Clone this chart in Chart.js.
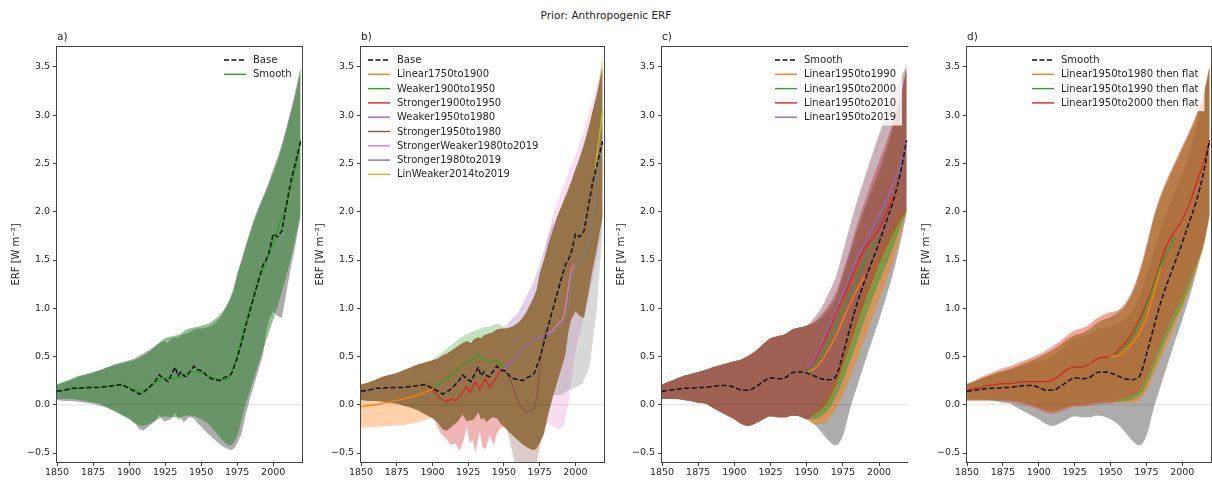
<!DOCTYPE html>
<html>
<head>
<meta charset="utf-8">
<script src="https://cdn.jsdelivr.net/npm/chart.js@4.4.1/dist/chart.umd.min.js"></script>
<style>
  body { margin: 0; width: 1212px; height: 482px; background: #fff; position: relative; overflow: hidden; }
  canvas { position: absolute; top: 0; }
  #suptitle { position: absolute; top: 8px; left: 0; width: 1212px; text-align: center;
              font: 10.5px "DejaVu Sans"; line-height: 14px; color: #262626; }
</style>
</head>
<body>
<div id="suptitle">Prior: Anthropogenic ERF</div>
<canvas id="panelA" width="303" height="482" style="left:0px"></canvas>
<canvas id="panelB" width="303" height="482" style="left:304px"></canvas>
<canvas id="panelC" width="303" height="482" style="left:605px"></canvas>
<canvas id="panelD" width="302" height="482" style="left:910px"></canvas>
<script>
// ---- axes ----
const xTicks = [1850, 1875, 1900, 1925, 1950, 1975, 2000];
const yTicks = [-0.5, 0, 0.5, 1, 1.5, 2, 2.5, 3, 3.5];
const zeroYears = [1850, 2020];
const zeroVals = [0, 0];

// ---- Base (noisy) ----
const baseYears = [1850,1855,1860,1865,1870,1875,1880,1885,1890,1895,1900,1904,1907,1910,1914,1918,1921,1924,1927,1929,1932,
  1934,1936,1938,1940,1942,1945,1948,1951,1954,1957,1960,1963,1966,1969,1971,1973,1975,1978,1981,1984,
  1987,1990,1993,1995,1997,2000,2003,2006,2009,2012,2015,2019];
const baseMid = [0.14,0.15,0.17,0.17,0.18,0.18,0.18,0.19,0.20,0.21,0.17,0.14,0.11,0.13,0.18,0.24,0.31,0.27,0.24,0.30,0.39,
  0.30,0.34,0.30,0.29,0.34,0.40,0.36,0.35,0.30,0.27,0.26,0.25,0.28,0.30,0.32,0.40,0.48,0.64,0.82,0.98,
  1.14,1.30,1.45,1.50,1.57,1.77,1.74,1.80,2.05,2.30,2.48,2.73];
const baseUp = [0.21,0.23,0.26,0.29,0.31,0.33,0.36,0.39,0.42,0.44,0.46,0.48,0.51,0.53,0.57,0.61,0.64,0.66,0.64,0.68,0.70,
  0.69,0.72,0.73,0.74,0.75,0.78,0.79,0.79,0.80,0.82,0.85,0.90,0.97,1.06,1.12,1.20,1.36,1.50,1.66,1.80,
  1.94,2.05,2.16,2.23,2.31,2.44,2.56,2.70,2.86,3.04,3.22,3.50];
const baseLo = [0.05,0.04,0.04,0.03,0.02,0.01,-0.01,-0.03,-0.06,-0.10,-0.14,-0.19,-0.25,-0.27,-0.22,-0.17,-0.10,-0.17,-0.16,-0.15,-0.08,
  -0.15,-0.14,-0.18,-0.15,-0.13,-0.14,-0.20,-0.24,-0.29,-0.33,-0.37,-0.41,-0.44,-0.46,-0.47,-0.45,-0.40,-0.30,-0.10,0.07,
  0.22,0.37,0.52,0.75,0.88,0.97,0.92,0.90,1.15,1.40,1.62,1.95];

// ---- Smooth (5-yearly) ----
const years5 = [1850,1855,1860,1865,1870,1875,1880,1885,1890,1895,1900,1905,1910,1915,1920,1925,1930,1935,1940,1945,
  1950,1955,1960,1965,1970,1975,1980,1985,1990,1995,2000,2005,2010,2015,2019];
const smoothMid = [0.14,0.15,0.16,0.17,0.17,0.18,0.18,0.19,0.20,0.20,0.18,0.15,0.15,0.19,0.24,0.28,0.27,0.28,0.33,0.34,
  0.33,0.30,0.27,0.26,0.29,0.52,0.80,1.06,1.28,1.48,1.68,1.90,2.12,2.42,2.74];
const smoothUp = [0.21,0.24,0.27,0.30,0.32,0.34,0.36,0.39,0.41,0.43,0.45,0.47,0.51,0.56,0.63,0.69,0.71,0.73,0.78,0.80,
  0.82,0.84,0.89,0.97,1.10,1.34,1.58,1.82,2.03,2.21,2.40,2.62,2.90,3.18,3.48];
const smoothLo = [0.06,0.06,0.06,0.05,0.04,0.02,0.01,-0.03,-0.07,-0.11,-0.15,-0.20,-0.22,-0.19,-0.15,-0.12,-0.13,-0.13,-0.11,-0.12,
  -0.15,-0.20,-0.28,-0.37,-0.42,-0.32,-0.04,0.20,0.43,0.66,0.88,1.12,1.38,1.70,1.98];

// ---- panel b series ----
const bNames = ["Base","Linear1750to1900","Weaker1900to1950","Stronger1900to1950","Weaker1950to1980",
  "Stronger1950to1980","StrongerWeaker1980to2019","Stronger1980to2019","LinWeaker2014to2019"];
const bOrangeYears = [1850,1860,1870,1880,1890,1900];
const bOrangeLine = [-0.02,0.00,0.03,0.06,0.10,0.16];
const bOrangeUp = [0.10,0.12,0.15,0.18,0.22,0.30];
const bOrangeLo = [-0.24,-0.23,-0.22,-0.21,-0.18,-0.13];
const bGreenYears = [1900,1905,1910,1915,1920,1925,1930,1932,1935,1940,1945,1948,1950];
const bGreenLine = [0.18,0.22,0.27,0.33,0.41,0.45,0.49,0.52,0.47,0.45,0.46,0.42,0.38];
const bGreenUp = [0.47,0.52,0.58,0.64,0.70,0.74,0.77,0.78,0.80,0.81,0.84,0.83,0.80];
const bGreenLo = [-0.10,-0.12,-0.14,-0.10,-0.05,-0.02,0.00,0.00,0.00,0.00,0.00,0.00,0.00];
const bRedYears = [1900,1903,1906,1910,1913,1916,1919,1922,1924,1926,1928,1930,1933,1935,1937,1940,1943,1945,1947,1950];
const bRedLine = [0.16,0.10,0.06,0.03,0.06,0.04,0.09,0.15,0.19,0.12,0.18,0.24,0.15,0.22,0.27,0.18,0.24,0.29,0.34,0.36];
const bRedUp = [0.40,0.38,0.40,0.42,0.45,0.45,0.48,0.52,0.55,0.50,0.52,0.56,0.50,0.55,0.58,0.55,0.58,0.60,0.62,0.62];
const bRedLo = [-0.10,-0.22,-0.30,-0.36,-0.42,-0.40,-0.48,-0.36,-0.22,-0.40,-0.36,-0.50,-0.28,-0.44,-0.46,-0.32,-0.42,-0.30,-0.25,-0.22];
const bPurpleYears = [1950,1955,1960,1965,1970,1975,1980,1985];
const bPurpleLine = [0.36,0.44,0.52,0.60,0.66,0.70,0.72,0.76];
const bPurpleUp = [0.80,0.88,0.96,1.10,1.25,1.45,1.70,1.92];
const bPurpleLo = [0.00,-0.10,-0.15,-0.15,-0.10,0.00,0.30,0.60];
const bBrownYears = [1950,1953,1956,1959,1962,1965,1968,1971,1973,1975,1977,1979];
const bBrownLine = [0.36,0.30,0.20,0.07,-0.03,-0.07,-0.07,-0.04,0.08,0.35,0.62,0.78];
const bBrownUp = [0.60,0.55,0.50,0.50,0.50,0.60,0.70,0.80,0.90,1.00,1.10,1.30];
const bBrownLo = [-0.15,-0.30,-0.50,-0.70,-0.80,-0.85,-0.85,-0.75,-0.60,-0.45,-0.30,-0.15];
const bPinkYears = [1980,1984,1988,1991,1993,1995,1997,1999];
const bPinkLine = [0.72,0.77,0.84,0.88,1.00,1.20,1.38,1.45];
const bPinkBandYears = [1977,1980,1984,1988,1992,1995,2000,2005,2010,2015,2019];
const bPinkUp = [1.40,1.70,1.95,2.12,2.28,2.40,2.58,2.80,3.05,3.30,3.55];
const bPinkLo = [-0.25,-0.20,-0.22,-0.25,-0.22,0.00,0.55,0.85,1.15,1.50,1.90];
const bGrayYears = [1985,1990,1995,2000,2005,2010,2015,2019];
const bGrayLine = [0.75,0.82,1.00,1.45,1.50,1.75,2.30,2.73];
const bGrayUp = [1.80,2.00,2.20,2.40,2.60,2.90,3.10,3.45];
const bGrayLo = [0.10,0.10,0.15,0.18,0.22,0.40,1.00,1.80];
const bOliveYears = [2014,2019];
const bOliveLine = [2.45,3.05];
const bOliveUp = [3.00,3.66];
const bOliveLo = [1.95,2.20];

// ---- panel c series (after 1950; before that they equal Smooth) ----
const cNames = ["Smooth","Linear1950to1990","Linear1950to2000","Linear1950to2010","Linear1950to2019"];
const cOrangeLine = [0.33,0.37,0.45,0.57,0.71,0.88,1.05,1.20,1.33];
const cGreenLine = [0.34,0.40,0.50,0.65,0.82,0.98,1.15,1.30,1.48,1.62,1.73];
const cRedLine = [0.36,0.46,0.60,0.76,0.95,1.10,1.28,1.46,1.62,1.72,1.82,1.99,2.15];
const cPurpleLine = [0.37,0.48,0.63,0.80,0.98,1.16,1.34,1.52,1.68,1.82,1.96,2.12,2.30,2.50,2.74];
const cOrangeUp = [0.84,0.89,0.97,1.08,1.28,1.50,1.74,1.96,2.18,2.40,2.62,2.88,3.16,3.47];
const cOrangeLo = [-0.20,-0.20,-0.15,-0.05,0.10,0.28,0.48,0.68,0.88,1.08,1.28,1.50,1.76,2.00];
const cGreenUp = [0.85,0.91,1.00,1.12,1.32,1.56,1.80,2.02,2.24,2.44,2.66,2.90,3.18,3.48];
const cGreenLo = [-0.15,-0.12,-0.05,0.08,0.25,0.45,0.66,0.88,1.08,1.27,1.45,1.64,1.85,2.00];
const cRedUp = [0.86,0.93,1.03,1.16,1.38,1.62,1.88,2.10,2.32,2.52,2.72,2.95,3.22,3.50];
const cRedLo = [-0.10,-0.05,0.05,0.20,0.40,0.62,0.85,1.06,1.26,1.45,1.62,1.78,1.92,2.00];
const cPurpleUp = [0.90,1.00,1.15,1.32,1.58,1.86,2.12,2.35,2.58,2.80,3.00,3.20,3.38,3.52];
const cPurpleLo = [-0.08,0.00,0.12,0.30,0.52,0.75,0.98,1.20,1.40,1.58,1.74,1.88,1.98,2.02];

// ---- panel d series ----
const dNames = ["Smooth","Linear1950to1980 then flat","Linear1950to1990 then flat","Linear1950to2000 then flat"];
const dRedLine = [0.15,0.17,0.18,0.20,0.21,0.22,0.22,0.23,0.24,0.24,0.24,0.24,0.26,0.31,0.37,0.39,0.39,0.42,0.47,0.49,
  0.50,0.56,0.64,0.74,0.88,1.05,1.25,1.48,1.68,1.80,1.92,2.08,2.30,2.52,2.74];
const dOrangeLine = [0.50,0.51,0.56,0.63,0.74,0.90,1.15,1.42];
const dGreenLine = [0.50,0.53,0.60,0.70,0.84,1.02,1.23,1.45,1.60,1.74];
const dShareUp = [0.21,0.24,0.27,0.30,0.33,0.35,0.37,0.40,0.43,0.46,0.49,0.53,0.57,0.62,0.68,0.72,0.74,0.78,0.84,0.88,0.91];
const dShareLo = [0.05,0.05,0.05,0.05,0.05,0.05,0.04,0.03,0.02,0.00,-0.03,-0.06,-0.07,-0.05,-0.02,0.00,0.00,0.01,0.02,0.03,0.03];
const dRedUpPre = [0.22,0.25,0.29,0.32,0.35,0.38,0.40,0.43,0.46,0.49,0.52,0.56,0.61,0.66,0.72,0.77,0.79,0.83,0.89,0.93,0.96];
const dRedLoPre = [0.04,0.04,0.04,0.04,0.04,0.04,0.03,0.02,0.00,-0.02,-0.05,-0.08,-0.09,-0.07,-0.04,-0.02,-0.02,-0.01,0.00,0.01,0.01];
const dRedUp = [0.98,1.05,1.18,1.38,1.65,1.95,2.18,2.36,2.52,2.68,2.84,3.02,3.24,3.52];
const dRedLo = [0.05,0.07,0.09,0.14,0.27,0.45,0.63,0.80,0.97,1.12,1.30,1.47,1.68,1.97];
const dGreenUp = [0.96,1.03,1.16,1.36,1.63,1.93,2.16,2.34,2.50,2.66,2.82,3.00,3.22,3.51];
const dGreenLo = [0.03,0.04,0.05,0.09,0.20,0.37,0.55,0.72,0.88,1.04,1.22,1.44,1.66,1.96];
const dOrangeUp = [0.94,1.01,1.14,1.34,1.61,1.91,2.14,2.32,2.48,2.64,2.80,2.98,3.20,3.50];
const dOrangeLo = [0.02,0.02,0.02,0.05,0.14,0.30,0.48,0.64,0.82,0.99,1.18,1.40,1.64,1.95];

// ---- colours ----
const C = { orange: "#ff7f0e", green: "#2ca02c", red: "#d62728", purple: "#9467bd",
            brown: "#8c564b", pink: "#e377c2", gray: "#7f7f7f", olive: "#bcbd22", black: "#111111" };
const DASH = [5, 2.5];

function pts(xs, ys) {
  return xs.map((x, i) => ({ x: x, y: ys[i] }));
}

function line(xs, ys, color, opt) {
  return Object.assign({
    data: pts(xs, ys), borderColor: color, borderWidth: 1.3, pointRadius: 0,
    fill: false, tension: 0, order: 2
  }, opt || {});
}

function band(xs, up, lo, color, order, smooth) {
  const mode = smooth ? { cubicInterpolationMode: "monotone" } : {};
  return [
    Object.assign({ data: pts(xs, up), borderColor: "transparent", borderWidth: 0, pointRadius: 0,
                    fill: "+1", backgroundColor: color, order: order }, mode),
    Object.assign({ data: pts(xs, lo), borderColor: "transparent", borderWidth: 0, pointRadius: 0,
                    fill: false, order: order }, mode)
  ];
}

const zeroLine = () => line(zeroYears, zeroVals, "rgba(0,0,0,0.16)", { borderWidth: 0.8, order: 3 });
const SM = { cubicInterpolationMode: "monotone" };

// legend drawn inside the axes, like matplotlib
const panelLegend = {
  id: "panelLegend",
  afterDraw(chart, args, opts) {
    if (!opts.items) return;
    const ctx = chart.ctx;
    ctx.save();
    ctx.font = '10px "DejaVu Sans"';
    const rowH = 14.3;
    const textW = Math.max(...opts.items.map(it => ctx.measureText(it.label).width));
    ctx.fillStyle = "rgba(255,255,255,0.8)";
    ctx.fillRect(opts.x - 5, opts.y - 9, textW + 40, rowH * opts.items.length + 3);
    opts.items.forEach((it, i) => {
      const y = opts.y + i * rowH;
      ctx.strokeStyle = it.color;
      ctx.lineWidth = it.dash ? 1.5 : 1.4;
      ctx.setLineDash(it.dash || []);
      ctx.beginPath();
      ctx.moveTo(opts.x, y);
      ctx.lineTo(opts.x + 22, y);
      ctx.stroke();
      ctx.setLineDash([]);
      ctx.fillStyle = "#262626";
      ctx.textBaseline = "middle";
      ctx.fillText(it.label, opts.x + 29, y + 0.5);
    });
    ctx.restore();
  }
};

const frame = {
  id: "frame",
  afterDatasetsDraw(chart) {
    const { ctx, chartArea: a } = chart;
    ctx.save();
    ctx.strokeStyle = "#444";
    ctx.lineWidth = 1;
    ctx.strokeRect(a.left - 0.5, a.top - 0.5, a.right - a.left + 1, a.bottom - a.top + 1);
    ctx.restore();
  }
};

function makeChart(id, panel, datasets, legend, padRight) {
  return new Chart(document.getElementById(id), {
    type: "line",
    data: { datasets: datasets },
    options: {
      responsive: false,
      animation: false,
      events: [],
      layout: { padding: { left: 0, right: padRight, top: 0, bottom: 0 } },
      plugins: {
        legend: { display: false },
        tooltip: { enabled: false },
        title: {
          display: true, text: panel, align: "start", fullSize: false,
          color: "#262626", font: { size: 10.5, weight: "normal" },
          padding: { top: 30.5, bottom: 3.9 }
        },
        panelLegend: legend
      },
      scales: {
        x: {
          type: "linear", min: 1850, max: 2020,
          afterBuildTicks: s => { s.ticks = xTicks.map(v => ({ value: v })); },
          afterFit: s => { s.height = 20; },
          ticks: { font: { size: 9.5 }, color: "#262626", padding: 1, maxRotation: 0, autoSkip: false,
                   callback: v => String(v) },
          grid: { drawOnChartArea: false, drawTicks: true, tickLength: 4, color: "#444" },
          border: { display: false }
        },
        y: {
          min: -0.593, max: 3.707,
          afterBuildTicks: s => { s.ticks = yTicks.map(v => ({ value: v })); },
          afterFit: s => { s.width = 57; },
          ticks: { font: { size: 9.5 }, color: "#262626", padding: 3,
                   callback: v => (v < 0 ? "\u2212" : "") + Math.abs(v).toFixed(1) },
          grid: { drawOnChartArea: false, drawTicks: true, tickLength: 4, color: "#444" },
          border: { display: false },
          title: { display: true, text: "ERF [W m\u207B\u00B2]", color: "#262626",
                   font: { size: 10 }, padding: { top: 10, bottom: 0 } }
        }
      }
    },
    plugins: [panelLegend, frame]
  });
}

Chart.defaults.font.family = '"DejaVu Sans", sans-serif';

// a) Base vs Smooth
makeChart("panelA", "a)", [
  line(baseYears, baseMid, C.black, { borderDash: DASH, borderWidth: 1.5, order: 1 }),
  line(years5, smoothMid, C.green, Object.assign({ order: 2 }, SM)),
  zeroLine(),
  ...band(baseYears, baseUp, baseLo, "rgba(90,90,90,0.5)", 10, false),
  ...band(years5, smoothUp, smoothLo, "rgba(38,128,38,0.5)", 9, true)
], {
  x: 224, y: 60,
  items: [{ label: "Base", color: C.black, dash: DASH }, { label: "Smooth", color: C.green }]
}, 1);

// b) period-specific variants
const bColors = [C.black, C.orange, C.green, C.red, C.purple, C.brown, C.pink, C.gray, C.olive];
makeChart("panelB", "b)", [
  line(baseYears, baseMid, C.black, { borderDash: DASH, borderWidth: 1.5, order: 1 }),
  line(bOrangeYears, bOrangeLine, C.orange),
  line(bGreenYears, bGreenLine, C.green),
  line(bRedYears, bRedLine, C.red),
  line(bPurpleYears, bPurpleLine, C.purple),
  line(bBrownYears, bBrownLine, C.brown),
  line(bPinkYears, bPinkLine, C.pink),
  line(bGrayYears, bGrayLine, C.gray),
  line(bOliveYears, bOliveLine, C.olive),
  zeroLine(),
  ...band(baseYears, baseUp, baseLo, "rgb(150,115,72)", 5, false),
  ...band(bOrangeYears, bOrangeUp, bOrangeLo, "rgba(255,127,14,0.35)", 10, false),
  ...band(bGreenYears, bGreenUp, bGreenLo, "rgba(44,160,44,0.3)", 10, false),
  ...band(bRedYears, bRedUp, bRedLo, "rgba(214,39,40,0.35)", 10, false),
  ...band(bPurpleYears, bPurpleUp, bPurpleLo, "rgba(148,103,189,0.3)", 10, false),
  ...band(bBrownYears, bBrownUp, bBrownLo, "rgba(140,86,75,0.3)", 10, false),
  ...band(bPinkBandYears, bPinkUp, bPinkLo, "rgba(227,119,194,0.25)", 11, false),
  ...band(bGrayYears, bGrayUp, bGrayLo, "rgba(127,127,127,0.3)", 10, false),
  ...band(bOliveYears, bOliveUp, bOliveLo, "rgba(188,189,34,0.5)", 10, false)
], {
  x: 64, y: 60,
  items: bNames.map((n, i) => ({ label: n, color: bColors[i], dash: i === 0 ? DASH : null }))
}, 3);

// c) linear changes from 1950
const y1950 = years5.slice(20);
const pre = arr => arr.slice(0, 21);
makeChart("panelC", "c)", [
  line(years5, smoothMid, C.black, Object.assign({ borderDash: DASH, borderWidth: 1.5, order: 1 }, SM)),
  line(y1950.slice(0, cOrangeLine.length), cOrangeLine, C.orange, SM),
  line(y1950.slice(0, cGreenLine.length), cGreenLine, C.green, SM),
  line(y1950.slice(0, cPurpleLine.length), cPurpleLine, C.purple, SM),
  line(y1950.slice(0, cRedLine.length), cRedLine, C.red, SM),
  zeroLine(),
  ...band(years5, smoothUp, smoothLo, "rgba(90,90,90,0.5)", 20, true),
  ...band(years5, pre(smoothUp).concat(cOrangeUp), pre(smoothLo).concat(cOrangeLo), "rgba(255,127,14,0.5)", 19, true),
  ...band(years5, pre(smoothUp).concat(cGreenUp), pre(smoothLo).concat(cGreenLo), "rgba(44,160,44,0.5)", 18, true),
  ...band(years5, pre(smoothUp).concat(cRedUp), pre(smoothLo).concat(cRedLo), "rgba(214,39,40,0.5)", 17, true),
  ...band(years5, pre(smoothUp).concat(cPurpleUp), pre(smoothLo).concat(cPurpleLo), "rgba(150,100,115,0.5)", 16, true)
], {
  x: 170, y: 60,
  items: cNames.map((n, i) => ({ label: n, color: [C.black, C.orange, C.green, C.red, C.purple][i], dash: i === 0 ? DASH : null }))
}, 0);

// d) linear then flat
makeChart("panelD", "d)", [
  line(years5, smoothMid, C.black, Object.assign({ borderDash: DASH, borderWidth: 1.5, order: 1 }, SM)),
  line(y1950.slice(0, dOrangeLine.length), dOrangeLine, C.orange, SM),
  line(y1950.slice(0, dGreenLine.length), dGreenLine, C.green, SM),
  line(years5, dRedLine, C.red, SM),
  zeroLine(),
  ...band(years5, smoothUp, smoothLo, "rgba(90,90,90,0.5)", 20, true),
  ...band(years5, dShareUp.concat(dOrangeUp), dShareLo.concat(dOrangeLo), "rgba(255,127,14,0.5)", 19, true),
  ...band(years5, dShareUp.concat(dGreenUp), dShareLo.concat(dGreenLo), "rgba(44,160,44,0.5)", 18, true),
  ...band(years5, dRedUpPre.concat(dRedUp), dRedLoPre.concat(dRedLo), "rgba(221,75,61,0.5)", 17, true)
], {
  x: 122, y: 60,
  items: dNames.map((n, i) => ({ label: n, color: [C.black, C.orange, C.green, C.red][i], dash: i === 0 ? DASH : null }))
}, 1);
</script>
</body>
</html>
